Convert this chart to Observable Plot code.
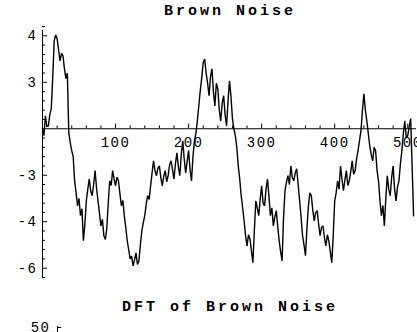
<!DOCTYPE html>
<html>
<head>
<meta charset="utf-8">
<script src="https://cdn.jsdelivr.net/npm/d3@7"></script>
<script src="https://cdn.jsdelivr.net/npm/@observablehq/plot@0.6"></script>
<style>
  html, body { margin: 0; padding: 0; background: #fff; }
  body { width: 417px; height: 332px; overflow: hidden; position: relative; font-family: "Liberation Mono", "DejaVu Sans Mono", monospace; }
  .title { position: absolute; left: 0; width: 460px; text-align: center; font-weight: bold; font-size: 15px; letter-spacing: 3px; line-height: 16px; color: #000; }
  #t1 { top: 4px; }
  #t2 { top: 300px; }
  #p1 { position: absolute; left: 0; top: 22px; }
  #p2 { position: absolute; left: 0; top: 318px; }
  svg text { letter-spacing: 1.5px; }
</style>
</head>
<body>
<div class="title" id="t1">Brown Noise</div>
<div id="p1"></div>
<div class="title" id="t2">DFT of Brown Noise</div>
<div id="p2"></div>
<script>
// Brown noise samples (one value every 2 steps)
const brownNoise = [
  2.00, 1.85, 2.28, 2.05, 2.06, 2.30, 2.43, 3.10, 3.89, 4.02,
  3.94, 3.70, 3.46, 3.62, 3.57, 3.30, 3.08, 3.20, 1.91, 1.70,
  1.53, 1.40, 0.88, 0.62, 0.34, 0.50, 0.13, 0.28, -0.41, -0.05,
  0.45, 0.70, 0.92, 0.66, 0.56, 0.80, 1.10, 0.72, 0.45, 0.18,
  -0.09, 0.05, -0.30, -0.38, -0.15, 0.40, 0.88, 0.78, 1.10, 0.92,
  0.77, 0.96, 0.88, 0.60, 0.34, 0.46, 0.13, -0.12, -0.41, -0.60,
  -0.80, -0.74, -0.95, -0.82, -0.67, -0.92, -0.84, -0.50, -0.19, -0.02,
  0.13, 0.38, 0.56, 0.48, 0.77, 1.05, 1.31, 1.10, 0.99, 1.15,
  1.20, 0.95, 0.77, 0.98, 1.10, 0.86, 0.99, 1.22, 1.31, 1.12,
  0.92, 1.25, 1.48, 1.18, 0.99, 1.45, 1.74, 1.35, 1.05, 1.30,
  1.53, 1.12, 0.88, 1.40, 1.74, 1.90, 2.17, 2.50, 2.82, 3.10,
  3.42, 3.50, 3.20, 2.98, 2.71, 3.12, 3.29, 2.80, 2.49, 2.98,
  2.86, 2.40, 2.17, 2.55, 2.71, 2.30, 2.06, 2.60, 3.03, 2.70,
  2.22, 2.00, 1.85, 1.60, 1.20, 0.92, 0.56, 0.30, 0.02, -0.30,
  -0.52, -0.28, -0.37, -0.62, -0.88, -0.20, 0.45, 0.30, 0.13, 0.48,
  0.77, 0.40, 0.34, 0.70, 0.92, 0.55, 0.13, 0.30, -0.09, 0.10,
  0.24, -0.10, -0.41, -0.65, -0.84, 0.10, 0.67, 0.85, 0.99, 0.80,
  1.20, 0.95, 0.88, 1.05, 1.14, 0.80, 0.45, 0.10, -0.30, -0.50,
  -0.73, -0.15, 0.34, 0.62, 0.56, 0.25, 0.02, 0.20, 0.24, -0.05,
  -0.30, -0.12, -0.09, -0.35, -0.52, -0.28, -0.41, -0.65, -0.88, -0.30,
  0.45, 0.62, 0.88, 0.70, 1.20, 0.92, 0.67, 0.90, 1.10, 0.78,
  0.88, 1.08, 1.31, 1.02, 1.10, 1.35, 1.53, 1.75, 1.96, 2.40,
  2.75, 2.40, 2.17, 1.90, 1.63, 1.45, 1.31, 1.60, 1.53, 1.10,
  0.88, 0.45, 0.13, 0.35, -0.09, 0.50, 0.99, 0.70, 0.56, 0.95,
  1.20, 0.70, 0.45, 0.75, 0.88, 1.25, 1.53, 1.90, 2.17, 1.80,
  1.85, 2.05, 2.22, 1.20, 0.13
];
const sampleStep = 2;
const xMajorTicks = [100, 200, 300, 400, 500];
const xMajorLabels = ["100", "200", "300", "400", "500"];
const xMinorTicks = [20, 40, 60, 80, 120, 140, 160, 180, 220, 240, 260, 280, 320, 340, 360, 380, 420, 440, 460, 480];
const yMajorTicks = [4, 3, 1, 0, -1];
const yMajorLabels = ["4", "3", "-3", "-4", "-6"];
const yMinorTicks = [-1.2, -0.8, -0.6, -0.4, -0.2, 0.2, 0.4, 0.6, 0.8, 1.2, 1.4, 1.6, 1.8, 2.2, 2.4, 2.6, 2.8, 3.2, 3.4, 3.6, 3.8, 4.2];
const axisLevel = 2;

const pts = brownNoise.map((v, i) => ({ t: i * sampleStep, v }));

const p1 = Plot.plot({
  width: 417,
  height: 265,
  marginLeft: 42,
  marginRight: 1,
  marginTop: 4,
  marginBottom: 10,
  style: { fontFamily: "Liberation Mono, DejaVu Sans Mono, monospace", fontSize: "14px", background: "white", color: "black", overflow: "visible" },
  x: { domain: [0, 512], axis: null },
  y: { domain: [-1.2, 4.2], axis: null },
  marks: [
    Plot.text(xMajorTicks, { x: d => d, y: () => axisLevel, dy: 14, text: (d, i) => xMajorLabels[i], fontSize: 14, fill: "black" }),
    Plot.text(yMajorTicks, { x: () => 0, y: d => d, dx: -5, text: (d, i) => yMajorLabels[i], textAnchor: "end", fontSize: 14, fill: "black" }),
    Plot.ruleY([axisLevel], { x1: 0, x2: 512, stroke: "black", strokeWidth: 1 }),
    Plot.ruleX([0], { y1: -1.2, y2: 4.12, stroke: "black", strokeWidth: 1 }),
    Plot.ruleX(xMinorTicks, { x: d => d, y1: axisLevel, y2: axisLevel + 0.06, stroke: "black" }),
    Plot.ruleX(xMajorTicks, { x: d => d, y1: axisLevel, y2: axisLevel + 0.1, stroke: "black" }),
    Plot.ruleY(yMinorTicks, { y: d => d, x1: 0, x2: 4, stroke: "black" }),
    Plot.ruleY(yMajorTicks, { y: d => d, x1: 0, x2: 7, stroke: "black" }),
    Plot.line(pts, { x: "t", y: "v", stroke: "black", strokeWidth: 1.4, strokeLinejoin: "miter", strokeMiterlimit: 2 })
  ]
});
document.getElementById("p1").appendChild(p1);

// Second chart (mostly below the visible window)
const dftTicks = [50];
const dftLabels = ["50"];
const p2 = Plot.plot({
  width: 417,
  height: 80,
  marginLeft: 57,
  marginRight: 1,
  marginTop: 9,
  marginBottom: 10,
  style: { fontFamily: "Liberation Mono, DejaVu Sans Mono, monospace", fontSize: "14px", background: "white", color: "black", overflow: "visible" },
  x: { domain: [0, 256], axis: null },
  y: { domain: [0, 50], axis: null },
  marks: [
    Plot.text(dftTicks, { x: () => 0, y: d => d, dx: -7, text: (d, i) => dftLabels[i], textAnchor: "end", fontSize: 14, fill: "black" }),
    Plot.ruleX([0], { y1: 0, y2: 50.6, stroke: "black" }),
    Plot.ruleY(dftTicks, { y: d => d, x1: 0, x2: 3, stroke: "black" })
  ]
});
document.getElementById("p2").appendChild(p2);
</script>
</body>
</html>
